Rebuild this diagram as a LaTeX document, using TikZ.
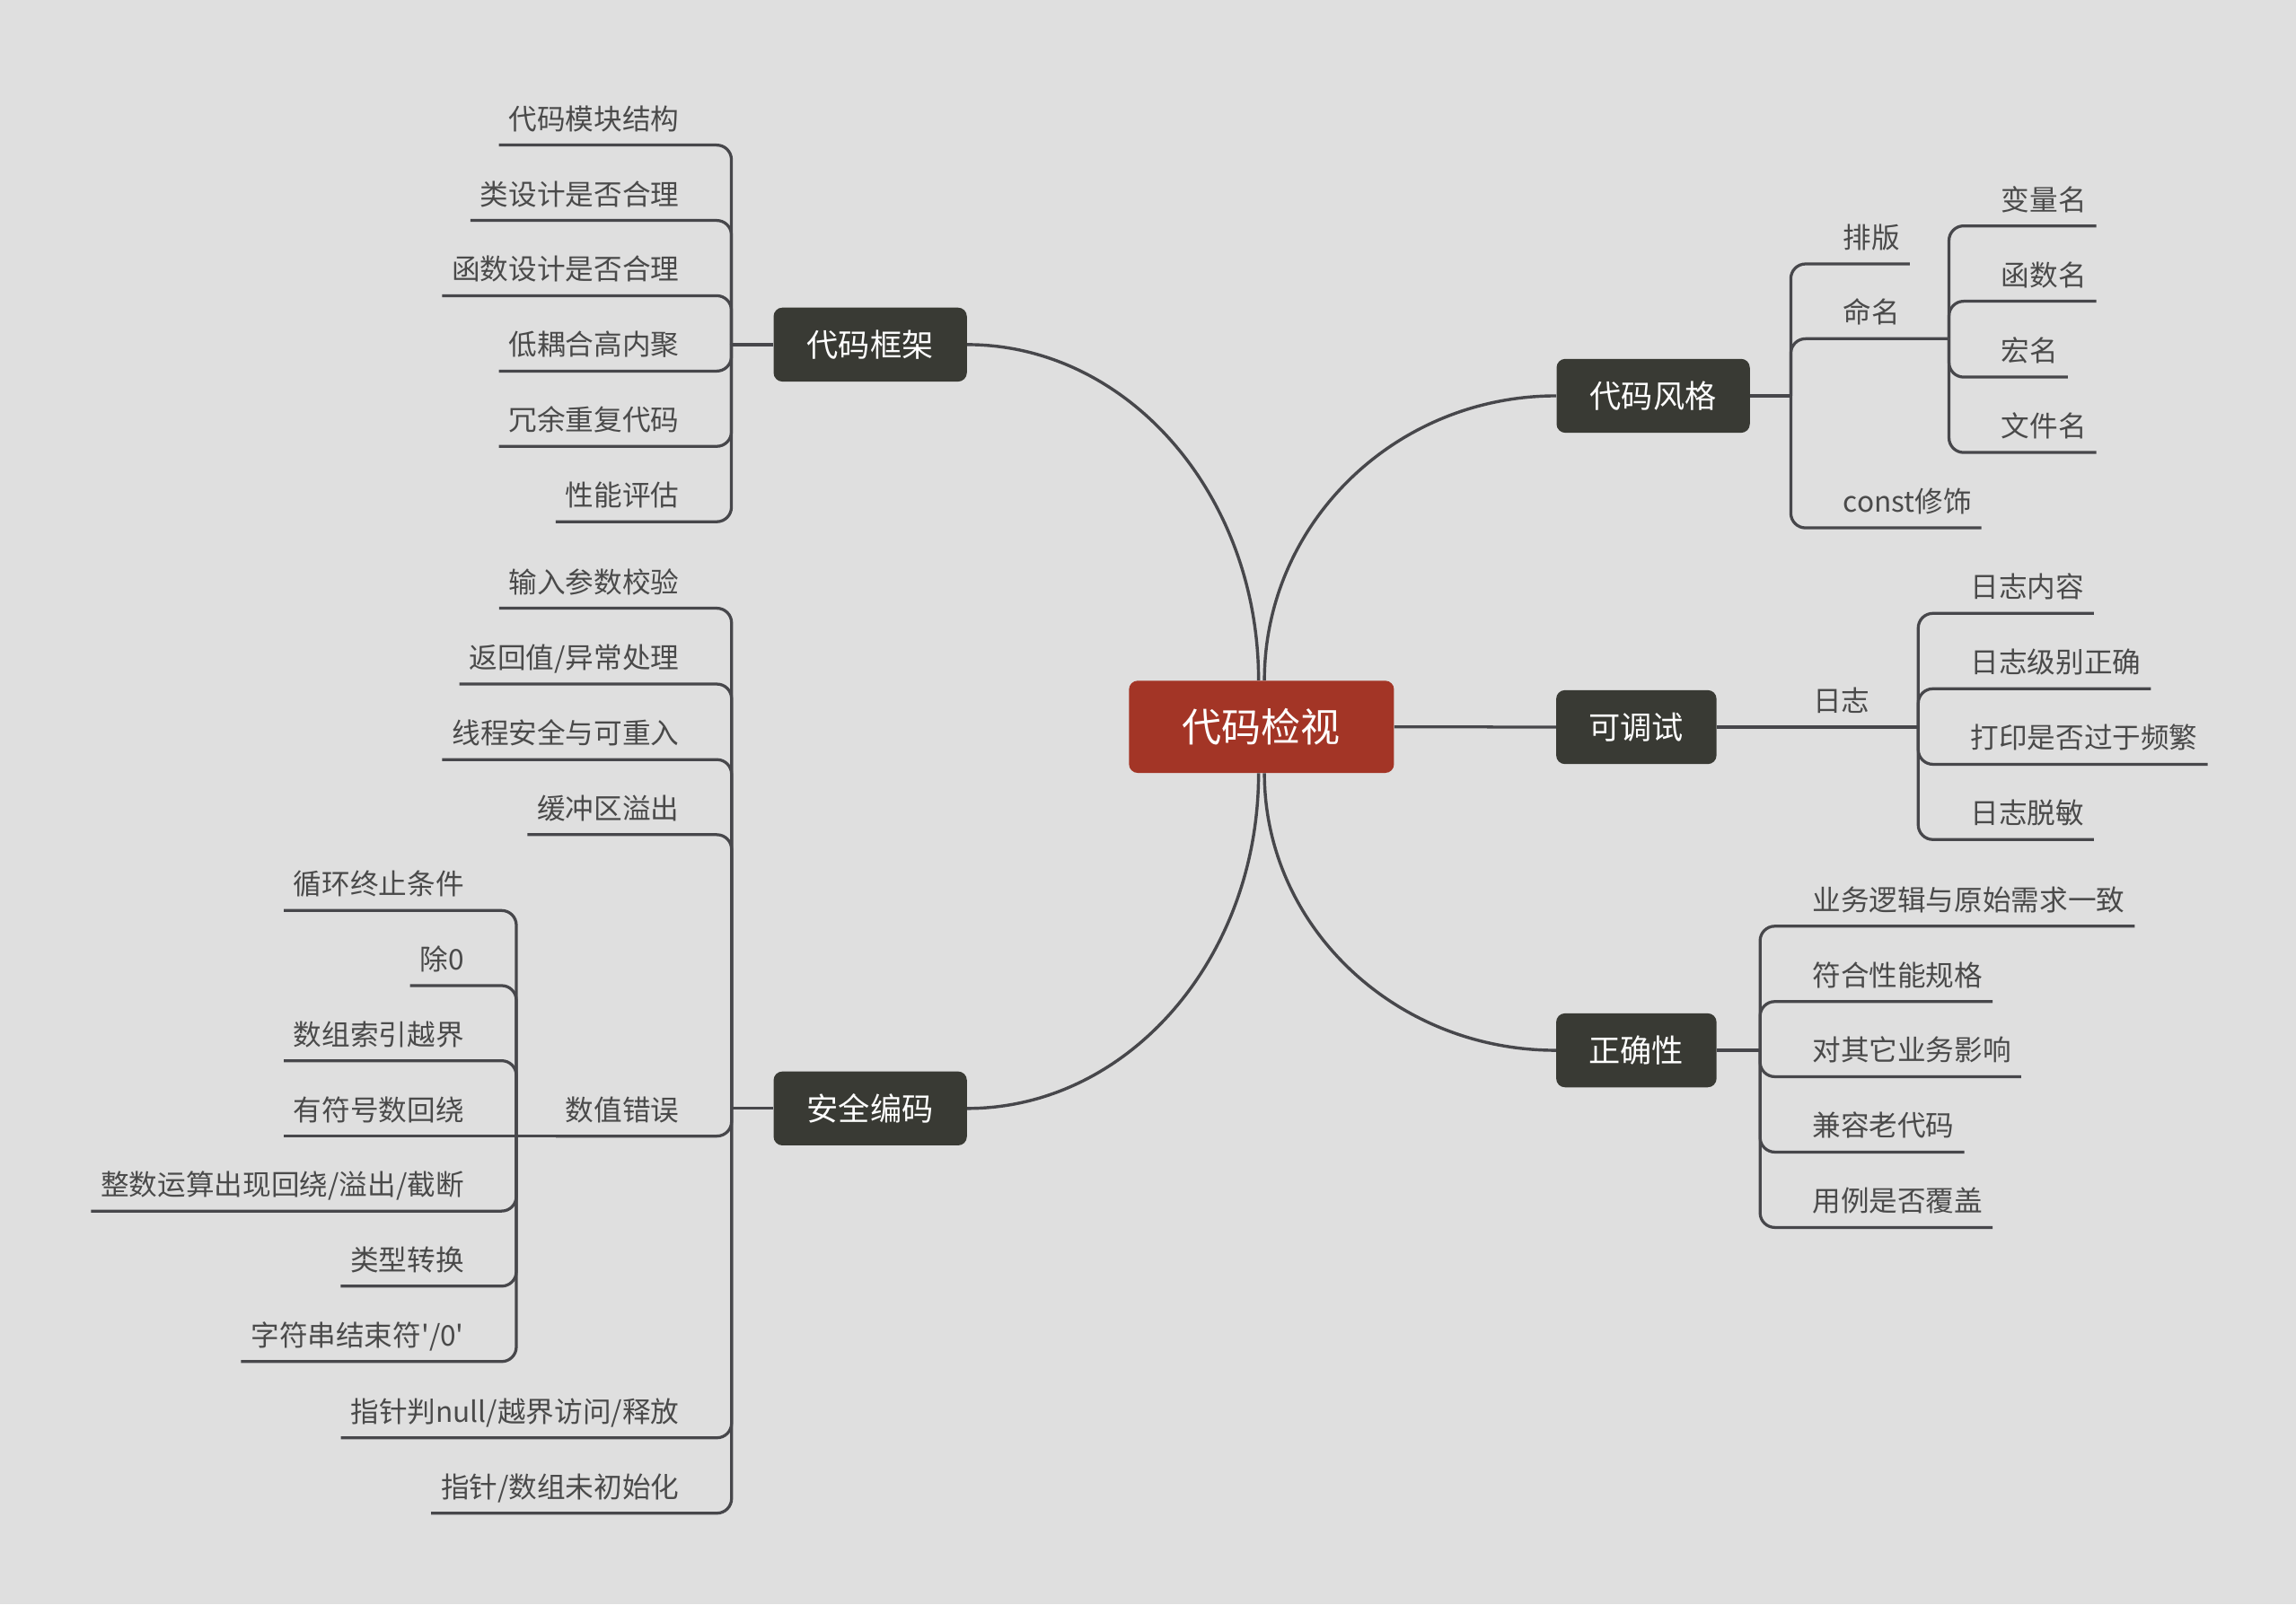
\documentclass[tikz,border=0pt]{standalone}
\usepackage{fontspec}
\newfontfamily\cjk{Noto Sans CJK SC}
\usetikzlibrary{calc}
\definecolor{bg}{HTML}{DFDFDF}
\definecolor{linec}{HTML}{47474B}
\definecolor{txt}{HTML}{4A4A4A}
\definecolor{boxc}{HTML}{393A34}
\definecolor{rootc}{HTML}{A33526}
\tikzset{
  conn/.style={draw=linec, line width=2pt, rounded corners=10pt},
  curveconn/.style={draw=linec, line width=2.1pt},
  leaf/.style={inner xsep=6.5pt, inner ysep=10.5pt, text depth=0pt, text=txt,
    font=\cjk\fontsize{19.4pt}{22pt}\selectfont},
  leafL/.style={leaf, anchor=south east},
  leafR/.style={leaf, anchor=south west},
  branchbox/.style={fill=boxc, text=white, rounded corners=6pt, minimum height=50.5pt,
    inner xsep=0pt, inner ysep=0pt, text height=18.1pt, text depth=1.7pt,
    font=\cjk\fontsize{21.6pt}{24pt}\selectfont},
  rootbox/.style={fill=rootc, text=white, rounded corners=6pt, minimum height=63pt,
    minimum width=181pt, inner xsep=0pt, inner ysep=0pt, text height=22.7pt, text depth=2.2pt,
    font=\cjk\fontsize{27pt}{30pt}\selectfont},
}
\begin{document}
\begin{tikzpicture}[x=1pt,y=-1pt]
\fill[bg] (0,0) rectangle (1568,1096);
\useasboundingbox (0,0) rectangle (1568,1096);

% ---------- main nodes ----------
\node[rootbox] (root) at (861.5,496.5) {代码检视};
\node[branchbox, minimum width=132pt] (dmkj) at (594.3,235.4) {代码框架};
\node[branchbox, minimum width=132pt] (dmfg) at (1129,270.4) {代码风格};
\node[branchbox, minimum width=109.5pt] (kts) at (1117.5,496.7) {可调试};
\node[branchbox, minimum width=109.5pt] (zqx) at (1117.5,717.5) {正确性};
\node[branchbox, minimum width=132pt] (aqbm) at (594.3,757.2) {安全编码};

% ---------- curves from root ----------
\coordinate (cTL) at ($(root.north)+(-2,0)$);
\coordinate (cTR) at ($(root.north)+(2,0)$);
\coordinate (cBL) at ($(root.south)+(-2,0)$);
\coordinate (cBR) at ($(root.south)+(2,0)$);
\coordinate (kA) at (dmkj.east -| cTL);
\coordinate (kB) at (dmfg.west -| cTR);
\coordinate (kC) at (aqbm.east -| cBL);
\coordinate (kD) at (zqx.west -| cBR);
\draw[curveconn] (dmkj.east) .. controls ($(dmkj.east)!0.552!(kA)$) and ($(cTL)!0.552!(kA)$) .. (cTL);
\draw[curveconn] (dmfg.west) .. controls ($(dmfg.west)!0.552!(kB)$) and ($(cTR)!0.552!(kB)$) .. (cTR);
\draw[curveconn] (aqbm.east) .. controls ($(aqbm.east)!0.552!(kC)$) and ($(cBL)!0.552!(kC)$) .. (cBL);
\draw[curveconn] (zqx.west) .. controls ($(zqx.west)!0.552!(kD)$) and ($(cBR)!0.552!(kD)$) .. (cBR);
\draw[conn] (root.east) -- (kts.west);

% ---------- 代码框架 ----------
\coordinate (jA) at (499.5,235.4);
\node[leafL] (a1) at (470.5,99.1) {代码模块结构};
\node[leafL] (a2) at (470.5,150.6) {类设计是否合理};
\node[leafL] (a3) at (470.5,202.0) {函数设计是否合理};
\node[leafL] (a4) at (470.5,253.5) {低耦合高内聚};
\node[leafL] (a5) at (470.5,304.9) {冗余重复代码};
\node[leafL] (a6) at (470.5,356.4) {性能评估};
\draw[conn] (dmkj.west) -- (jA);
\foreach \n in {a1,a2,a3,a4,a5,a6} \draw[conn] (\n.south west) -| (jA);

% ---------- 安全编码 ----------
\coordinate (jC) at (499.6,757.2);
\node[leafL] (c1) at (470.6,415.5) {输入参数校验};
\node[leafL] (c2) at (470.6,467.3) {返回值/异常处理};
\node[leafL] (c3) at (470.6,518.9) {线程安全与可重入};
\node[leafL] (c4) at (470.6,570.2) {缓冲区溢出};
\node[leafL] (szcw) at (470.6,776.1) {数值错误};
\node[leafL] (c5) at (470.6,982.2) {指针判null/越界访问/释放};
\node[leafL] (c6) at (470.6,1033.7) {指针/数组未初始化};
\draw[conn] (aqbm.west) -- (jC);
\foreach \n in {c1,c2,c3,c4,szcw,c5,c6} \draw[conn] (\n.south west) -| (jC);

% ---------- 数值错误 ----------
\coordinate (jN) at (352.6,776.1);
\node[leafL] (n1) at (323.6,622.0) {循环终止条件};
\node[leafL] (n2) at (323.6,673.3) {除0};
\node[leafL] (n3) at (323.6,724.6) {数组索引越界};
\node[leafL] (n4) at (323.6,776.1) {有符号数回绕};
\node[leafL] (n5) at (323.6,827.3) {整数运算出现回绕/溢出/截断};
\node[leafL] (n6) at (323.6,878.6) {类型转换};
\node[leafL] (n7) at (323.6,930.1) {字符串结束符'/0'};
\draw[conn] (szcw.south west) -- (jN);
\draw[conn] (n4.south west) -- (jN);
\foreach \n in {n1,n2,n3,n5,n6,n7} \draw[conn] (\n.south west) -| (jN);

% ---------- 代码风格 ----------
\coordinate (jS) at (1223,270.4);
\node[leafR] (b1) at (1252,180.3) {排版};
\node[leafR] (mm) at (1252,231.4) {命名};
\node[leafR] (b2) at (1252,360.6) {const修饰};
\draw[conn] (dmfg.east) -- (jS);
\draw[conn] (jS) |- (b1.south east);
\draw[conn] (jS) |- (b2.south east);
\coordinate (jM) at (1331,231.4);
\draw[conn] (jS) |- (mm.south east) -- (jM);
\node[leafR] (m1) at (1360,154.3) {变量名};
\node[leafR] (m2) at (1360,205.8) {函数名};
\node[leafR] (m3) at (1360,257.6) {宏名};
\node[leafR] (m4) at (1360,309.1) {文件名};
\foreach \n in {m1,m2,m3,m4} \draw[conn] (jM) |- (\n.south east);

% ---------- 可调试 ----------
\node[leafR] (rz) at (1231.5,496.7) {日志};
\coordinate (jRZ) at (1310,496.7);
\draw[conn] (kts.east) -- (rz.south west) -- (rz.south east) -- (jRZ);
\node[leafR] (r1) at (1339,419.0) {日志内容};
\node[leafR] (r2) at (1339,470.5) {日志级别正确};
\node[leafR] (r3) at (1339,522.1) {打印是否过于频繁};
\node[leafR] (r4) at (1339,573.5) {日志脱敏};
\foreach \n in {r1,r2,r3,r4} \draw[conn] (jRZ) |- (\n.south east);

% ---------- 正确性 ----------
\coordinate (jZ) at (1202,717.5);
\node[leafR] (z1) at (1231,632.7) {业务逻辑与原始需求一致};
\node[leafR] (z2) at (1231,684.2) {符合性能规格};
\node[leafR] (z3) at (1231,735.5) {对其它业务影响};
\node[leafR] (z4) at (1231,787.0) {兼容老代码};
\node[leafR] (z5) at (1231,838.5) {用例是否覆盖};
\draw[conn] (zqx.east) -- (jZ);
\foreach \n in {z1,z2,z3,z4,z5} \draw[conn] (jZ) |- (\n.south east);
\end{tikzpicture}
\end{document}
